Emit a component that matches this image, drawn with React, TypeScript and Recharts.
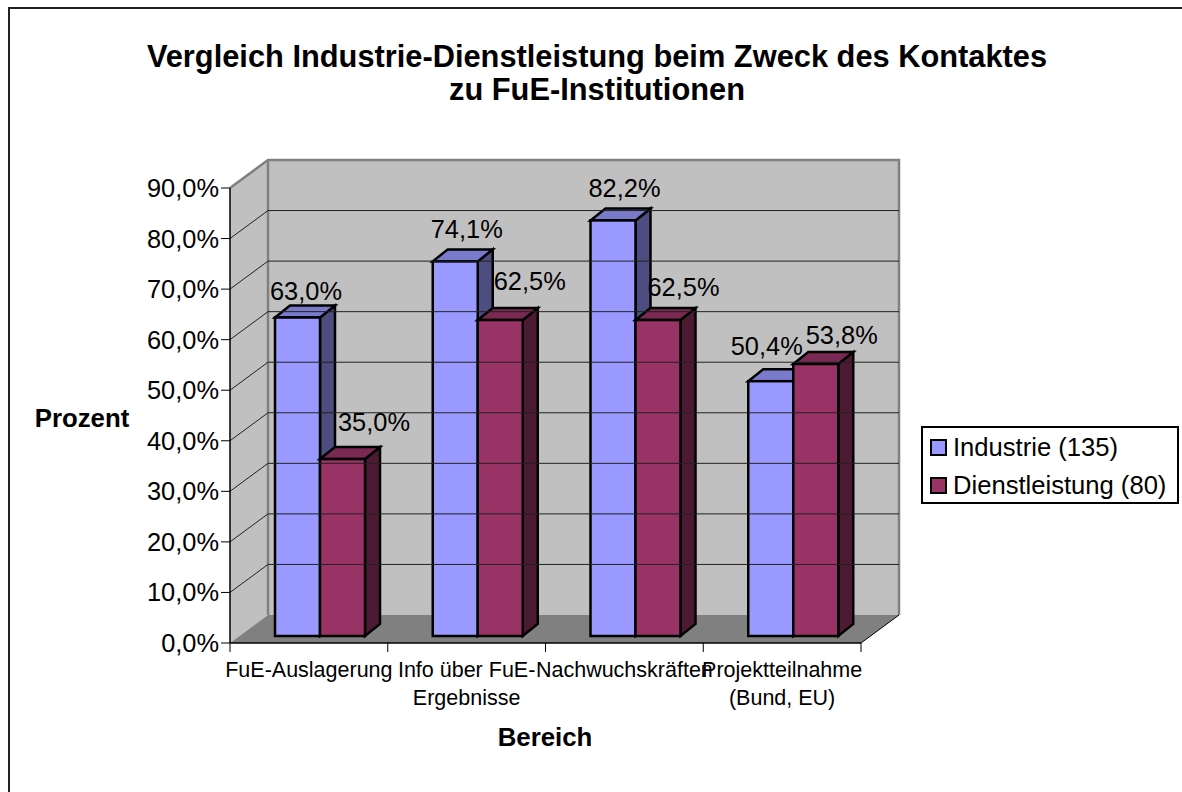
import React from "react";
import {
  BarChart,
  Bar,
  XAxis,
  YAxis,
  Legend,
  LabelList,
  ReferenceArea,
  ReferenceLine,
  Customized,
} from "recharts";

const categories = [
  "FuE-Auslagerung",
  "Info über FuE-\nErgebnisse",
  "Nachwuchskräften",
  "Projektteilnahme\n(Bund, EU)",
];
const industrie = [63.0, 74.1, 82.2, 50.4];
const dienstleistung = [35.0, 62.5, 62.5, 53.8];
const yTicks = [0, 10, 20, 30, 40, 50, 60, 70, 80, 90];
const gridTicks = [10, 20, 30, 40, 50, 60, 70, 80];

const data = categories.map((name, i) => ({
  name,
  industrie: industrie[i],
  dienstleistung: dienstleistung[i],
}));

// the labels were moved by hand in the original, so each one has its own nudge
const industrieNudge = [
  [8.5, -17.5],
  [11.5, -23.5],
  [11.5, -23.5],
  [-4, -26],
];
const dienstNudge = [
  [31.5, -28],
  [29.5, -30],
  [25.5, -24],
  [26, -20],
];

const FONT = "'Liberation Sans', Arial, sans-serif";
const PLOT_LEFT = 230;
const PLOT_RIGHT = 861;
const PLOT_TOP = 188;
const PLOT_BOTTOM = 643;
const WALL_DX = 38;
const WALL_DY = -28;
const BAR_DX = 11;
const BAR_DY = -7;
const DEPTH_X = 15;
const DEPTH_Y = -12;
const BAND = (PLOT_RIGHT - PLOT_LEFT) / categories.length;

const pct = (v: number) => v.toFixed(1).replace(".", ",") + "%";

const Walls = ({ x, y, width, height }: any) => {
  const b = y + height;
  const r = x + width;
  const dx = WALL_DX;
  const dy = WALL_DY;
  return (
    <g>
      <polygon
        points={`${x},${b} ${x + dx},${b + dy} ${x + dx},${y + dy} ${x},${y}`}
        fill="#c0c0c0"
      />
      <rect x={x + dx} y={y + dy} width={width} height={height} fill="#c0c0c0" />
      <polygon
        points={`${x},${b} ${x + dx},${b + dy} ${r + dx},${b + dy} ${r},${b}`}
        fill="#808080"
      />
      <polyline
        points={`${x},${y} ${x + dx},${y + dy} ${r + dx},${y + dy} ${r + dx},${b + dy}`}
        fill="none"
        stroke="#808080"
        strokeWidth={2.5}
      />
      <line
        x1={x + dx}
        y1={y + dy}
        x2={x + dx}
        y2={b + dy}
        stroke="#808080"
        strokeWidth={2.5}
      />
      <line x1={r} y1={b} x2={r + dx} y2={b + dy} stroke="#000" strokeWidth={1} />
    </g>
  );
};

const WallGrid = ({ x1, y1, x2 }: any) => (
  <polyline
    points={`${x1},${y1} ${x1 + WALL_DX},${y1 + WALL_DY} ${x2 + WALL_DX},${y1 + WALL_DY}`}
    fill="none"
    stroke="#222"
    strokeWidth={1}
  />
);

const makeBar3D = (front: string, top: string, side: string) => (props: any) => {
  const x = props.x + BAR_DX;
  const y = props.y + BAR_DY;
  const { width: w, height: h } = props;
  const common = { stroke: "#000", strokeWidth: 2.5, strokeLinejoin: "miter" as const };
  return (
    <g>
      <polygon
        points={`${x + w},${y} ${x + w + DEPTH_X},${y + DEPTH_Y} ${x + w + DEPTH_X},${y + h + DEPTH_Y} ${x + w},${y + h}`}
        fill={side}
        {...common}
      />
      <polygon
        points={`${x},${y} ${x + DEPTH_X},${y + DEPTH_Y} ${x + w + DEPTH_X},${y + DEPTH_Y} ${x + w},${y}`}
        fill={top}
        {...common}
      />
      <rect x={x} y={y} width={w} height={h} fill={front} {...common} />
    </g>
  );
};

const makeValueLabel = (nudge: number[][]) => (props: any) => {
  const { x, y, width, value, index } = props;
  return (
    <text
      x={x + width / 2 + BAR_DX + nudge[index][0]}
      y={y + BAR_DY + nudge[index][1]}
      textAnchor="middle"
      fontFamily={FONT}
      fontSize={25.4}
      fill="#000"
    >
      {pct(value)}
    </text>
  );
};

const CategoryTick = ({ x, y, index, payload }: any) => {
  const lines = String(payload.value).split("\n");
  return (
    <g>
      <line x1={x - BAND / 2} y1={y} x2={x - BAND / 2} y2={y + 9} stroke="#000" />
      {index === categories.length - 1 && (
        <line x1={x + BAND / 2} y1={y} x2={x + BAND / 2} y2={y + 9} stroke="#000" />
      )}
      {lines.map((l, i) => (
        <text
          key={i}
          x={x}
          y={y + 34 + i * 28}
          textAnchor="middle"
          fontFamily={FONT}
          fontSize={21.5}
          fill="#000"
        >
          {l}
        </text>
      ))}
    </g>
  );
};

const Titles = () => {
  const bold = { fontFamily: FONT, fontWeight: 700, textAnchor: "middle" as const, fill: "#000" };
  return (
    <g>
      <text x={597} y={67} fontSize={30.8} {...bold}>
        Vergleich Industrie-Dienstleistung beim Zweck des Kontaktes
      </text>
      <text x={597} y={100} fontSize={30.8} {...bold}>
        zu FuE-Institutionen
      </text>
      <text x={82} y={427} fontSize={25.8} {...bold}>
        Prozent
      </text>
      <text x={545} y={746} fontSize={25.8} {...bold}>
        Bereich
      </text>
    </g>
  );
};

const LegendBox = ({ payload }: any) => (
  <div
    style={{
      boxSizing: "border-box",
      width: 258,
      height: 78,
      border: "2px solid #000",
      background: "#fff",
      fontFamily: FONT,
      fontSize: 25.6,
      color: "#000",
      paddingLeft: 7,
    }}
  >
    {(payload || []).map((p: any) => (
      <div
        key={p.value}
        style={{ display: "flex", alignItems: "center", height: 38, marginTop: 0 }}
      >
        <span
          style={{
            boxSizing: "border-box",
            display: "inline-block",
            width: 17,
            height: 17,
            border: "2px solid #000",
            background: p.color,
            marginRight: 6,
          }}
        />
        {p.value}
      </div>
    ))}
  </div>
);

export default function App() {
  return (
    <div style={{ position: "absolute", left: 0, top: 0, width: 1182, height: 792, overflow: "hidden", background: "#fff" }}>
      <div
        style={{
          position: "absolute",
          left: 8,
          top: 7,
          width: 1182,
          height: 792,
          borderLeft: "2px solid #222",
          borderTop: "2px solid #222",
        }}
      />
      <BarChart
        width={1182}
        height={792}
        data={data}
        barSize={45}
        barGap={0}
        margin={{ top: PLOT_TOP, right: 1182 - PLOT_RIGHT, left: PLOT_LEFT - 100, bottom: 792 - PLOT_BOTTOM - 60 }}
      >
        <ReferenceArea y1={0} y2={90} shape={Walls} ifOverflow="visible" />
        {gridTicks.map((t) => (
          <ReferenceLine key={t} y={t} shape={WallGrid} />
        ))}
        <XAxis
          dataKey="name"
          height={60}
          interval={0}
          tickLine={false}
          tickSize={0}
          tickMargin={0}
          tick={CategoryTick}
          axisLine={{ stroke: "#000", strokeWidth: 1.5 }}
        />
        <YAxis
          width={100}
          domain={[0, 90]}
          ticks={yTicks}
          interval={0}
          tickSize={9}
          tickMargin={2}
          tickFormatter={pct}
          tick={{ fontFamily: FONT, fontSize: 25.4, fill: "#000" }}
          tickLine={{ stroke: "#000" }}
          axisLine={{ stroke: "#000", strokeWidth: 1.5 }}
        />
        <Bar
          dataKey="industrie"
          name="Industrie (135)"
          fill="#9999ff"
          shape={makeBar3D("#9999ff", "#7a7acc", "#4d4d80")}
          isAnimationActive={false}
        >
          <LabelList dataKey="industrie" content={makeValueLabel(industrieNudge)} />
        </Bar>
        <Bar
          dataKey="dienstleistung"
          name="Dienstleistung (80)"
          fill="#993366"
          shape={makeBar3D("#993366", "#7a2952", "#4d1a33")}
          isAnimationActive={false}
        >
          <LabelList dataKey="dienstleistung" content={makeValueLabel(dienstNudge)} />
        </Bar>
        <Legend
          layout="horizontal"
          verticalAlign="middle"
          itemSorter={null as any}
          content={LegendBox}
          wrapperStyle={{ left: 921, top: 426, width: 258, height: 78 }}
        />
        <Customized component={Titles} />
      </BarChart>
    </div>
  );
}
